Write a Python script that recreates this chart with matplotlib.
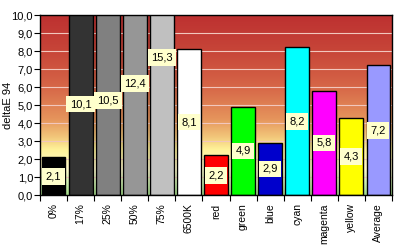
import matplotlib
matplotlib.use("Agg")
import matplotlib.pyplot as plt
import numpy as np
from matplotlib.colors import LinearSegmentedColormap

categories = ["0%", "17%", "25%", "50%", "75%", "6500K", "red", "green", "blue",
              "cyan", "magenta", "yellow", "Average"]
values = [2.1, 10.1, 10.5, 12.4, 15.3, 8.1, 2.2, 4.9, 2.9, 8.2, 5.8, 4.3, 7.2]
labels = ["2,1", "10,1", "10,5", "12,4", "15,3", "8,1", "2,2", "4,9", "2,9",
          "8,2", "5,8", "4,3", "7,2"]
bar_colors = ["#000000", "#333333", "#808080", "#969696", "#c0c0c0", "#ffffff",
              "#ff0000", "#00ff00", "#0000cc", "#00ffff", "#ff00ff", "#ffff00",
              "#9999ff"]
yticks = [i for i in range(11)]
ytick_labels = ["%d,0" % i for i in yticks]

plt.rcParams['font.family'] = ['Liberation Sans', 'DejaVu Sans']
fig = plt.figure(figsize=(3.99, 2.46), dpi=100)
ax = fig.add_axes([0.1003, 0.207, 0.8822, 0.732])

# background gradient
stops = [(0.0, (0.65, 0.87, 0.55)), (0.06, (0.80, 0.94, 0.68)),
         (0.14, (1.0, 0.98, 0.80)), (0.25, (1.0, 0.95, 0.60)),
         (0.32, (0.95, 0.78, 0.48)), (0.42, (0.90, 0.58, 0.36)),
         (0.6, (0.84, 0.40, 0.28)), (0.8, (0.78, 0.27, 0.22)),
         (1.0, (0.74, 0.19, 0.19))]
cmap = LinearSegmentedColormap.from_list("bg", stops)
grad = np.linspace(0, 1, 256).reshape(-1, 1)
ax.imshow(grad, cmap=cmap, aspect="auto", origin="lower",
          extent=[-0.5, len(categories) - 0.5, 0, 10], zorder=0)

for y in yticks[1:-1]:
    ax.axhline(y, color=(0.95, 0.78, 0.74), lw=0.8, zorder=1)

x = np.arange(len(categories))
ax.bar(x, values, width=0.88, color=bar_colors, edgecolor="black", lw=1.0, zorder=2)

for xi, v, lab in zip(x, values, labels):
    ax.text(xi, v / 2, lab, ha="center", va="center", fontsize=8, zorder=3,
            bbox=dict(boxstyle="square,pad=0.3", fc="#ffffcc", ec="none"))

ax.set_xlim(-0.5, len(categories) - 0.5)
ax.set_ylim(0, 10)
ax.set_yticks(yticks)
ax.set_yticklabels(ytick_labels, fontsize=8)
ax.set_xticks(np.arange(len(categories) + 1) - 0.5, minor=False)
ax.set_xticklabels([])
ax.set_xticks(x, minor=True)
ax.set_xticklabels(categories, minor=True, rotation=90, fontsize=7.5)
ax.tick_params(axis="x", which="minor", length=0, pad=6)
ax.tick_params(axis="x", which="major", length=4, direction="out", width=0.8)
ax.tick_params(axis="y", length=4, width=0.8, pad=1)
ax.set_ylabel("deltaE 94", fontsize=8, labelpad=-1)
for s in ax.spines.values():
    s.set_color("black")
    s.set_linewidth(1.0)

fig.savefig("out.png", dpi=100)
